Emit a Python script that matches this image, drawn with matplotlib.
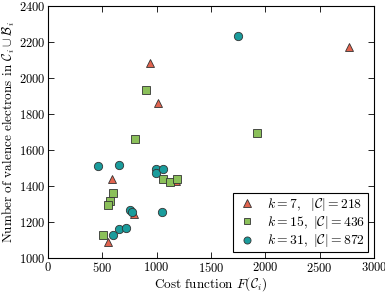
import matplotlib
matplotlib.use("Agg")
import matplotlib.pyplot as plt

plt.rcParams['font.family'] = 'serif'
plt.rcParams['font.serif'] = ['cmr10']
plt.rcParams['mathtext.fontset'] = 'cm'
plt.rcParams['axes.formatter.use_mathtext'] = True

k7_x = [938, 1015, 2770, 592, 552, 791, 1180]
k7_y = [2082, 1860, 2174, 1438, 1089, 1246, 1430]

k15_x = [902, 800, 1923, 601, 571, 549, 1061, 1123, 1187, 509]
k15_y = [1932, 1662, 1695, 1364, 1318, 1296, 1440, 1422, 1442, 1131]

k31_x = [1752, 463, 653, 994, 994, 1055, 1046, 755, 776, 650, 715, 598]
k31_y = [2232, 1510, 1520, 1494, 1472, 1494, 1257, 1266, 1255, 1163, 1166, 1126]

labels = [r"$k=7,\ \ |\mathcal{C}|=218$",
          r"$k=15,\ |\mathcal{C}|=436$",
          r"$k=31,\ |\mathcal{C}|=872$"]

fig = plt.figure(figsize=(3.85, 2.92), dpi=100)
ax = fig.add_axes([0.125, 0.116, 0.846, 0.863])

ax.plot(k7_x, k7_y, '^', color='#E2644F', mec='#333333', mew=0.6, ms=6, ls='none', label=labels[0])
ax.plot(k15_x, k15_y, 's', color='#8BC05A', mec='#333333', mew=0.6, ms=5.5, ls='none', label=labels[1])
ax.plot(k31_x, k31_y, 'o', color='#1A9C9C', mec='#333333', mew=0.6, ms=6, ls='none', label=labels[2])

ax.set_xlim(0, 3000)
ax.set_ylim(1000, 2400)
ax.set_xticks([0, 500, 1000, 1500, 2000, 2500, 3000])
ax.set_yticks([1000, 1200, 1400, 1600, 1800, 2000, 2200, 2400])
ax.tick_params(direction='in', top=True, right=True, labelsize=9, length=4, width=0.6, pad=2)
for s in ax.spines.values():
    s.set_linewidth(0.8)

ax.set_xlabel(r"Cost function $F(\mathcal{C}_i)$", fontsize=9.5, labelpad=0)
ax.set_ylabel(r"Number of valence electrons in $\mathcal{C}_i \cup \mathcal{B}_i$", fontsize=9.5, labelpad=1)

leg = ax.legend(loc='lower right', numpoints=1, fontsize=9.8, fancybox=False,
                edgecolor='black', framealpha=1, borderaxespad=0.45, handletextpad=0.6,
                labelspacing=0.08, markerscale=0.85, borderpad=0.2, handlelength=1.7)
leg.get_frame().set_linewidth(0.8)

fig.savefig("out.png", dpi=100)
